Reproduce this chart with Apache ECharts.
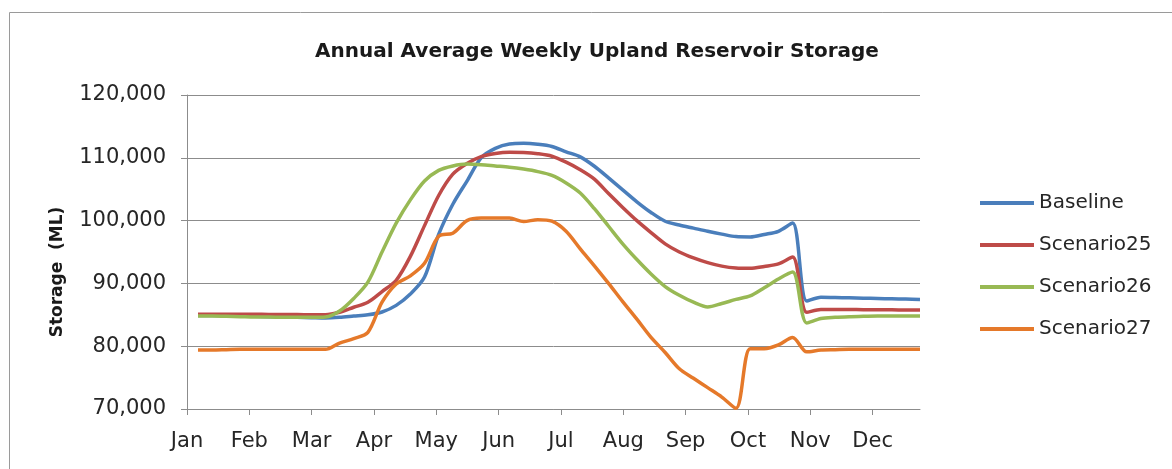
<!DOCTYPE html>
<html>
<head>
<meta charset="utf-8">
<script src="https://cdn.jsdelivr.net/npm/echarts@6/dist/echarts.min.js"></script>
<style>
html,body{margin:0;padding:0;background:#fff;}
#chart{width:1172px;height:469px;}
</style>
</head>
<body>
<div id="chart"></div>
<script>
const months = ['Jan','Feb','Mar','Apr','May','Jun','Jul','Aug','Sep','Oct','Nov','Dec'];
const weeks = [1,2,3,4,5,6,7,8,9,10,11,12,13,14,15,16,17,18,19,20,21,22,23,24,25,26,27,28,29,30,31,32,33,34,35,36,37,38,39,40,41,42,43,44,45,46,47,48,49,50,51,52];
const seriesNames = ['Baseline','Scenario25','Scenario26','Scenario27'];
const baseline = [84900,84900,84850,84800,84750,84700,84650,84600,84550,84500,
  84600,84800,85000,85450,86500,88300,91000,97800,102600,106300,
  110000,111500,112200,112300,112150,111800,110950,110150,108650,106800,
  104900,103000,101300,99900,99300,98800,98300,97850,97450,97400,
  97800,98300,99600,87200,87800,87750,87700,87650,87600,87550,87500,87450];
const scenario25 = [85100,85100,85100,85100,85100,85050,85050,85050,85000,85000,
  85400,86200,87000,88700,90500,94300,99200,104000,107400,109100,
  110200,110700,110900,110850,110650,110250,109300,108100,106600,104300,
  102100,100000,98100,96300,95000,94050,93300,92750,92450,92400,
  92700,93100,94200,85400,85850,85850,85850,85800,85800,85800,85750,85750];
const scenario26 = [84800,84800,84750,84700,84650,84650,84600,84600,84600,84650,
  85600,87600,90200,95000,99600,103300,106300,108000,108700,109000,
  108900,108700,108500,108200,107800,107200,106000,104400,101900,99100,
  96300,93800,91500,89500,88100,87000,86250,86800,87450,88000,
  89300,90700,91800,83700,84400,84600,84700,84750,84800,84800,84800,84800];
const scenario27 = [79400,79400,79450,79500,79500,79500,79500,79500,79500,79500,
  80500,81200,82200,87000,89900,91200,93200,97500,98000,100000,
  100400,100400,100400,99850,100150,99900,98300,95500,92800,90000,
  87100,84300,81400,79000,76400,74900,73400,71900,70100,79600,
  79600,80200,81400,79100,79400,79450,79500,79500,79500,79500,79500,79500];
const yTicks = [70000,80000,90000,100000,110000,120000];

const colors = ['#4A7EBB','#BE4B48','#98B954','#E5792A'];
const allData = [baseline, scenario25, scenario26, scenario27];
const FONT = 'DejaVu Sans';

const chart = echarts.init(document.getElementById('chart'), null, {renderer:'canvas'});
chart.setOption({
  animation:false,
  backgroundColor:'#fff',
  title:{
    text:'Annual Average Weekly Upland Reservoir Storage',
    left:592, top:37, textAlign:'center',
    textStyle:{fontFamily:FONT, fontWeight:'bold', fontSize:20, color:'#1a1a1a'}
  },
  graphic:[{type:'rect', shape:{x:9.5,y:12.5,width:1200,height:600}, style:{fill:'none', stroke:'#9a9a9a', lineWidth:1}, silent:true}],
  legend:{
    orient:'vertical', left:975, top:188,
    icon:'rect', itemWidth:54, itemHeight:4, itemGap:22,
    textStyle:{fontFamily:FONT, fontSize:20, color:'#262626', lineHeight:20},
    data:seriesNames
  },
  grid:{left:187, right:252, top:95, bottom:60, containLabel:false},
  xAxis:[{
    type:'value', min:0, max:11.76, interval:1,
    axisLine:{show:true, lineStyle:{color:'#8c8c8c', width:1}},
    axisTick:{show:true, inside:false, length:6, lineStyle:{color:'#8c8c8c'}},
    splitLine:{show:false},
    axisLabel:{show:true, showMaxLabel:false, margin:22, fontFamily:FONT, fontSize:21, color:'#262626',
      formatter:function(v){ const i=Math.round(v); return (Math.abs(v-i)<1e-6 && months[i])? months[i] : ''; }}
  },{
    type:'value', min:0.223, max:52, show:false, splitLine:{show:false}
  }],
  yAxis:{
    type:'value', min:yTicks[0], max:yTicks[yTicks.length-1], interval:10000,
    name:'Storage  (ML)', nameLocation:'middle', nameGap:121, nameRotate:90,
    nameTextStyle:{fontFamily:FONT, fontWeight:'bold', fontSize:17, color:'#1a1a1a', padding:[0,40,0,0]},
    axisLine:{show:true, lineStyle:{color:'#8c8c8c', width:1}},
    axisTick:{show:true, length:6, lineStyle:{color:'#8c8c8c'}},
    splitLine:{show:true, lineStyle:{color:'#8c8c8c', width:1}},
    axisLabel:{margin:21, fontFamily:FONT, fontSize:21, color:'#262626',
      formatter:function(v){ return v.toLocaleString('en-US'); }}
  },
  series: allData.map(function(arr, k){
    return {
      name:seriesNames[k], type:'line', xAxisIndex:1, yAxisIndex:0,
      data: arr.map(function(v,i){ return [weeks[i], v]; }),
      showSymbol:false, symbol:'none', smooth:0.3,
      lineStyle:{color:colors[k], width:3.5},
      itemStyle:{color:colors[k]}
    };
  })
});
</script>
</body>
</html>
